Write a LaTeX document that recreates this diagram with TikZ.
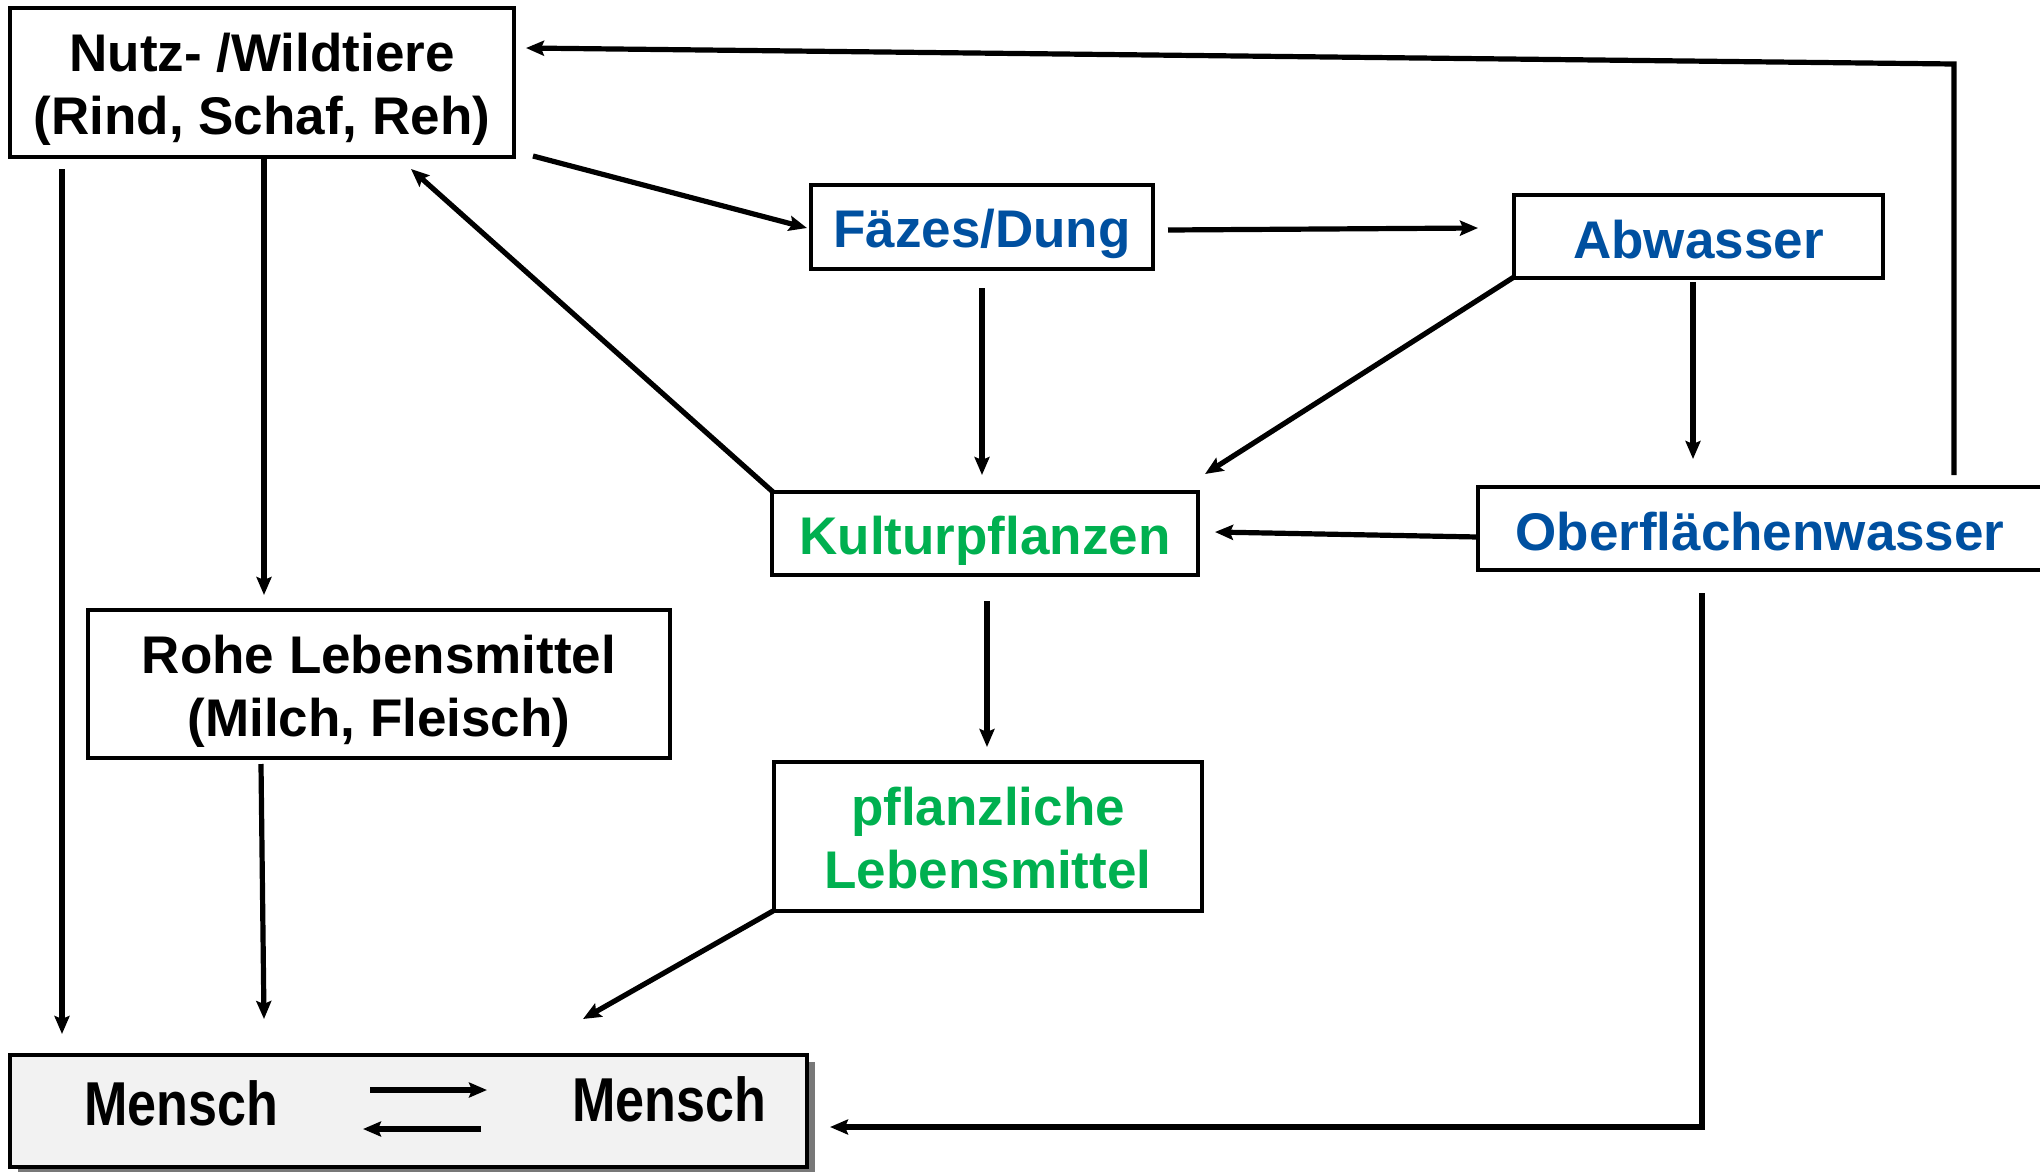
\documentclass[tikz,border=0pt]{standalone}
\usepackage{fontspec}
\setmainfont{Liberation Sans}
\usetikzlibrary{arrows.meta}
\definecolor{tblue}{RGB}{0,80,160}
\definecolor{tgreen}{RGB}{0,176,80}
\definecolor{mgray}{RGB}{242,242,242}
\definecolor{shgray}{RGB}{120,120,120}
\begin{document}
\begin{tikzpicture}[x=1pt,y=-1pt,
  box/.style={draw=black,line width=3.8pt,inner sep=0pt},
  txt/.style={inner sep=0pt,align=center,yshift=-7pt,
    font=\fontsize{53}{63}\selectfont\bfseries},
  conn/.style={line width=5.2pt,-{Stealth[length=18pt,width=15pt,inset=3pt]}}]
\useasboundingbox (0,0) rectangle (2040,1171);
% boxes
\node[box,minimum width=504,minimum height=149] (nutz) at (262,82.5) {};
\node[box,minimum width=342,minimum height=84] (faezes) at (982,227) {};
\node[box,minimum width=369,minimum height=83] (abw) at (1698.5,236.5) {};
\node[box,minimum width=426,minimum height=83] (kult) at (985,533.5) {};
\node[box,minimum width=564,minimum height=83] (ober) at (1760,528.5) {};
\node[box,minimum width=582,minimum height=148] (rohe) at (379,684) {};
\node[box,minimum width=428,minimum height=149] (pfl) at (988,836.5) {};
% texts
\node[txt] (nutzT) at (nutz.center) {Nutz- /Wildtiere\\(Rind, Schaf, Reh)};
\node[txt,text=tblue] (faezesT) at (faezes.center) {Fäzes/Dung};
\node[txt,text=tblue,yshift=4pt] (abwT) at (abw.center) {Abwasser};
\node[txt,text=tgreen] (kultT) at (kult.center) {Kulturpflanzen};
\node[txt,text=tblue,yshift=4pt] (oberT) at (ober.center) {Oberflächenwasser};
\node[txt] (roheT) at (rohe.center) {Rohe Lebensmittel\\(Milch, Fleisch)};
\node[txt,text=tgreen,yshift=5pt] (pflT) at (pfl.center) {pflanzliche\\Lebensmittel};
% Mensch box with shadow
\fill[shgray] (18,1062) rectangle (815,1175);
\node[draw=black,fill=mgray,line width=3.8pt,minimum width=797,minimum height=112,inner sep=0pt] (mbox) at (408.5,1111) {};
\node[font=\fontsize{62}{70}\selectfont\bfseries] (m1) at (181,1103) {\scalebox{0.84}[1]{Mensch}};
\node[font=\fontsize{62}{70}\selectfont\bfseries] (m2) at (669,1099) {\scalebox{0.84}[1]{Mensch}};
% coordinates
\coordinate (a1s) at (1954,475);
\coordinate (a1c) at (1954,64);
\coordinate (a1e) at (526,48);
\coordinate (a2s) at (533,156);
\coordinate (a2e) at (807,228);
\coordinate (a3s) at (62,169);
\coordinate (a3e) at (62,1034);
\coordinate (a4s) at (264,159);
\coordinate (a4e) at (264,595);
\coordinate (a5s) at (773,492);
\coordinate (a5e) at (411,169);
\coordinate (a6s) at (1168,230);
\coordinate (a6e) at (1478,228);
\coordinate (a7s) at (982,288);
\coordinate (a7e) at (982,475);
\coordinate (a8s) at (1514,277);
\coordinate (a8e) at (1205,474);
\coordinate (a9s) at (1693,282);
\coordinate (a9e) at (1693,459);
\coordinate (a10s) at (1478,537);
\coordinate (a10e) at (1215,532);
\coordinate (a11s) at (987,601);
\coordinate (a11e) at (987,747);
\coordinate (a12s) at (261,764);
\coordinate (a12e) at (264,1019);
\coordinate (a13s) at (773,911);
\coordinate (a13e) at (583,1019);
\coordinate (a14s) at (1702,593);
\coordinate (a14c) at (1702,1127);
\coordinate (a14e) at (830,1127);
\coordinate (r1s) at (370,1090);
\coordinate (r1e) at (487,1090);
\coordinate (r2s) at (481,1129);
\coordinate (r2e) at (363,1129);
% connectors
\draw[conn] (a1s) -- (a1c) -- (a1e);
\draw[conn] (a2s) -- (a2e);
\draw[conn] (a3s) -- (a3e);
\draw[conn] (a4s) -- (a4e);
\draw[conn] (a5s) -- (a5e);
\draw[conn] (a6s) -- (a6e);
\draw[conn] (a7s) -- (a7e);
\draw[conn] (a8s) -- (a8e);
\draw[conn] (a9s) -- (a9e);
\draw[conn] (a10s) -- (a10e);
\draw[conn] (a11s) -- (a11e);
\draw[conn] (a12s) -- (a12e);
\draw[conn] (a13s) -- (a13e);
\draw[conn] (a14s) -- (a14c) -- (a14e);
\draw[conn] (r1s) -- (r1e);
\draw[conn] (r2s) -- (r2e);
\end{tikzpicture}
\end{document}
